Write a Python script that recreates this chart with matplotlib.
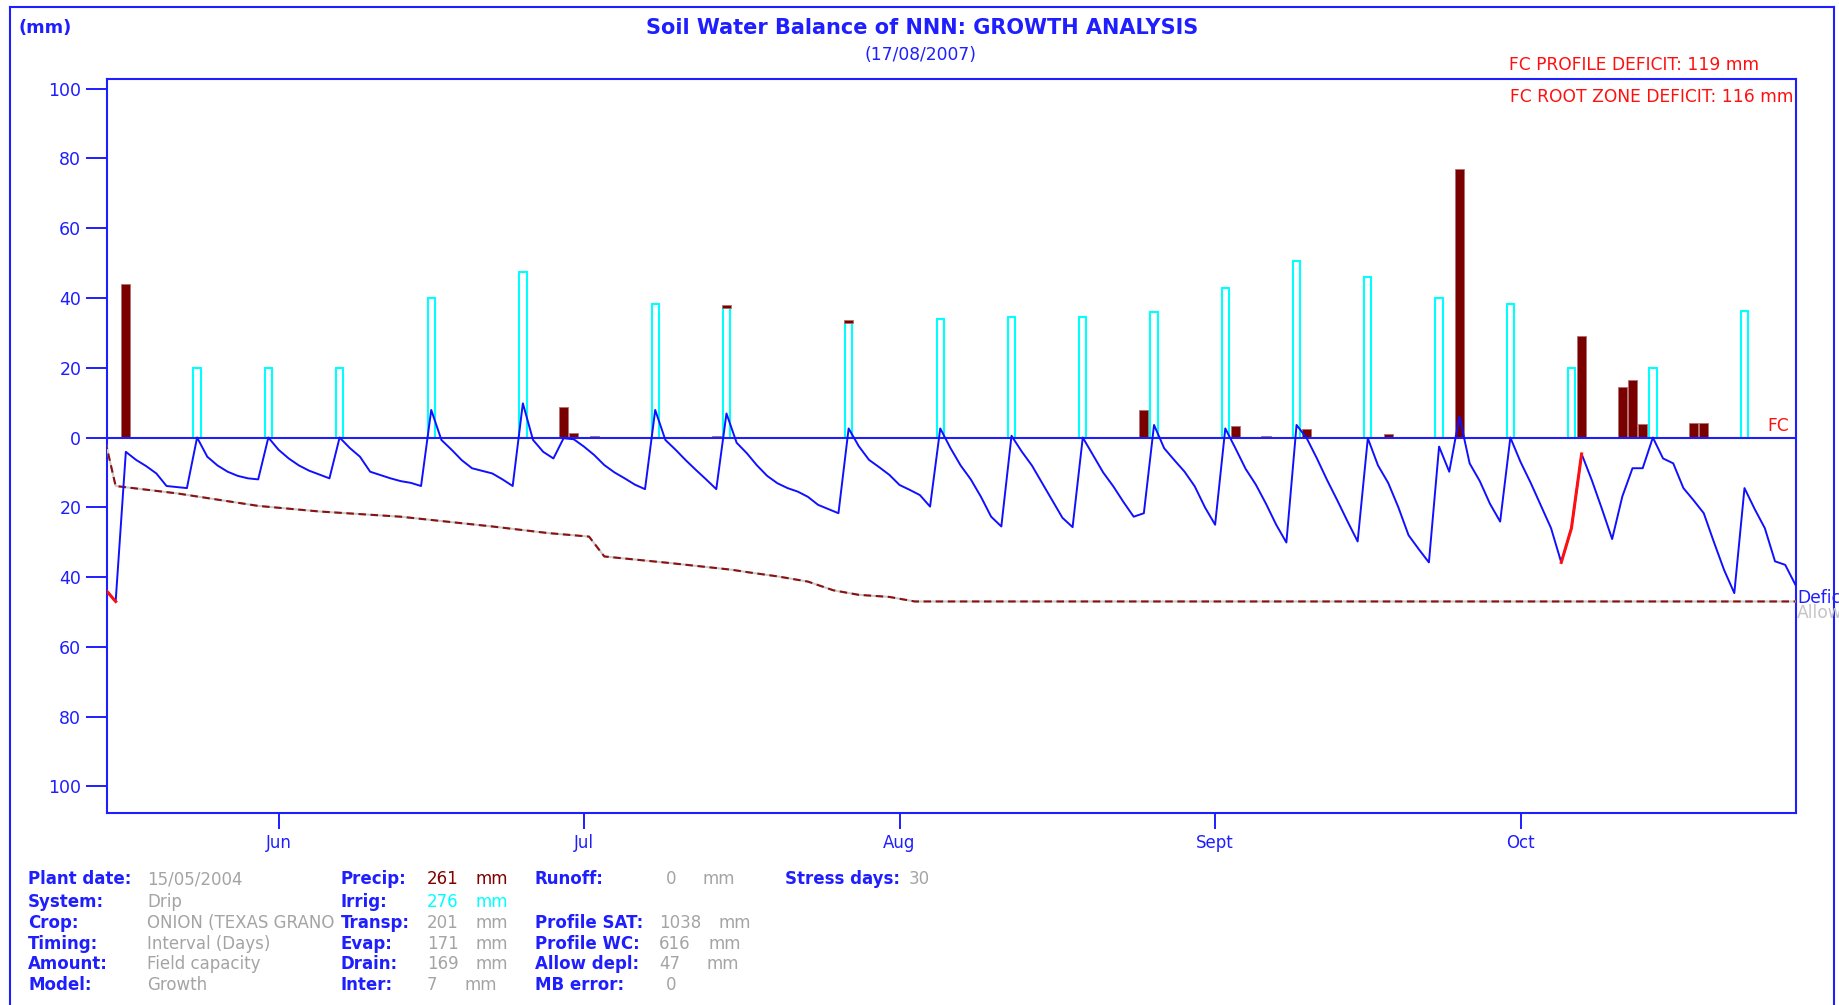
import matplotlib
matplotlib.use('Agg')
import matplotlib.pyplot as plt
from matplotlib.transforms import Bbox, TransformedBbox

# days counted from the plant date (15/05/2004 = day 0)
irrig_days = [9, 16, 23, 32, 41, 54, 61, 73, 82, 89, 96, 103, 110, 117, 124, 131, 138, 144, 152, 161]
irrig_mm = [20, 20, 20, 40, 47.4, 38.2, 37, 32.7, 34.1, 34.6, 34.6, 35.9, 42.9, 50.7, 46.1, 40.1, 38.2, 19.8, 19.8, 36.4]

precip_days = [2, 45, 46, 48, 60, 61, 73, 102, 111, 114, 118, 126, 133, 145, 149, 150, 151, 156, 157]
precip_mm = [44, 8.8, 1.4, 0.5, 0.5, 0.9, 1.1, 8.0, 3.3, 0.5, 2.4, 1.0, 77, 29.1, 14.4, 16.4, 3.8, 4.2, 4.2]

# soil water deficit below field capacity (mm)
deficit_days = [0, 1, 2, 3, 4, 5, 6, 8, 9, 10, 11, 12, 13, 14, 15, 16, 17, 18, 19, 20, 22, 23,
                24, 25, 26, 28, 29, 30, 31, 32, 33, 34, 35, 36, 38, 39, 40, 41, 42, 43, 44, 45,
                46, 47, 48, 49, 50, 51, 52, 53, 54, 55, 56, 57, 58, 59, 60, 61, 62, 63, 64, 65,
                66, 67, 68, 69, 70, 71, 72, 73, 74, 75, 76, 77, 78, 79, 80, 81, 82, 83, 84, 85,
                86, 87, 88, 89, 90, 91, 92, 93, 94, 95, 96, 97, 98, 99, 100, 101, 102, 103, 104,
                105, 106, 107, 108, 109, 110, 111, 112, 113, 114, 115, 116, 117, 118, 119, 120,
                121, 122, 123, 124, 125, 126, 127, 128, 129, 130, 131, 132, 133, 134, 135, 136,
                137, 138, 139, 140, 141, 142, 143, 144, 145, 146, 147, 148, 149, 150, 151, 152,
                153, 154, 155, 156, 157, 158, 159, 160, 161, 162, 163, 164, 165, 166]
deficit_mm = [-43.6, -47.0, -4.1, -6.4, -8.2, -10.3, -13.9, -14.5, 0.0, -5.5, -8.0, -9.8, -11.0, -11.7, -12.0, 0.0, -3.5, -6.0, -8.0, -9.5, -11.7, 0.0,
              -3.0, -5.5, -9.8, -11.7, -12.5, -13.0, -13.9, 7.9, -0.7, -3.5, -6.5, -8.8, -10.3, -12.0, -13.9, 9.8, -0.7, -4.1, -6.0, -0.2,
              -0.5, -2.6, -5.0, -7.9, -10.0, -11.7, -13.5, -14.8, 7.9, -0.7, -3.5, -6.5, -9.3, -12.0, -14.8, 6.9, -1.5, -4.5, -8.0, -11.0,
              -13.1, -14.5, -15.5, -17.0, -19.3, -20.5, -21.7, 2.6, -2.5, -6.4, -8.5, -10.7, -13.6, -15.0, -16.5, -19.8, 2.6, -3.0, -8.0, -12.0,
              -17.0, -22.7, -25.5, 0.5, -4.0, -8.0, -13.0, -18.0, -23.0, -25.7, 0.0, -5.0, -10.0, -14.0, -18.5, -22.7, -21.7, 3.6, -3.1,
              -6.5, -9.8, -14.0, -20.0, -25.0, 2.6, -3.1, -9.0, -13.5, -19.0, -25.0, -30.1, 3.6, -0.2, -6.0, -12.2,
              -18.0, -24.0, -29.8, -0.2, -8.0, -13.0, -20.0, -28.0, -32.0, -35.8, -2.6, -9.8, 6.0, -7.4, -12.5, -19.0,
              -24.1, 0.0, -7.0, -13.0, -19.5, -26.0, -35.8, -26.0, -4.7, -12.2, -20.5, -29.1, -16.9, -8.8, -8.8, 0.0,
              -6.0, -7.4, -14.5, -18.0, -21.7, -30.0, -38.0, -44.6, -14.5, -20.5, -26.0, -35.5, -36.5, -42.2]
stress_periods = [(0, 1), (143, 145)]

# allowable depletion (mm)
allow_days = [0, 1, 7, 15, 21, 29, 38, 43.5, 47.5, 49, 55.5, 61.5, 63.3, 66, 69, 71.5, 74, 77, 79.5, 166]
allow_mm = [-1.2, -13.9, -16.0, -19.6, -21.2, -22.7, -25.5, -27.4, -28.4, -34.1, -36.0, -37.9, -38.7, -39.8,
            -41.3, -43.8, -45.1, -45.7, -47.0, -47.0]

month_days = [17, 47, 78, 109, 139]
month_labels = ['Jun', 'Jul', 'Aug', 'Sept', 'Oct']
y_ticks = [-100, -80, -60, -40, -20, 0, 20, 40, 60, 80, 100]

# summary table
col1_labels = ['Plant date:', 'System:', 'Crop:', 'Timing:', 'Amount:', 'Model:']
col1_values = ['15/05/2004', 'Drip', 'ONION (TEXAS GRANO 502)', 'Interval (Days)', 'Field capacity', 'Growth']
col2_labels = ['Precip:', 'Irrig:', 'Transp:', 'Evap:', 'Drain:', 'Inter:']
col2_values = ['261', '276', '201', '171', '169', '7']
col3_labels = ['Runoff:', '', 'Profile SAT:', 'Profile WC:', 'Allow depl:', 'MB error:']
col3_values = ['0', '', '1038', '616', '47', '0']
col3_units = ['mm', '', 'mm', 'mm', 'mm', '']
stress_days = '30'

BLUE = '#1e1eff'
GREY = '#a4a4a4'
W, H = 1839, 1005


def fx(x):
    return x / W


def fy(y):
    return 1 - y / H


fig = plt.figure(figsize=(W / 100, H / 100), dpi=100)
fig.patch.set_facecolor('white')
ax = fig.add_axes([fx(107), fy(812.5), fx(1796) - fx(107), fy(78.6) - fy(812.5)])

# bars
ax.bar(irrig_days, irrig_mm, width=0.72, facecolor='none', edgecolor='#00ffff', linewidth=1.5, zorder=2)
irrig_lookup = dict(zip(irrig_days, irrig_mm))
bottoms = [irrig_lookup.get(d, 0) for d in precip_days]
ax.bar(precip_days, precip_mm, width=0.9, bottom=bottoms, color='#7a0000', edgecolor='#b07070',
       linewidth=0.6, zorder=2)

ax.axhline(0, color=BLUE, lw=1.5, zorder=3)

# allowable depletion
ax.plot(allow_days, allow_mm, color='#cccccc', lw=1.5, zorder=3)
ax.plot(allow_days, allow_mm, color='#8b1010', lw=1.5, ls=(0, (3.6, 2.2)), zorder=3)

# deficit line and stressed parts
ax.plot(deficit_days, deficit_mm, color='#1010ff', lw=1.4, zorder=4)
for d0, d1 in stress_periods:
    i0, i1 = deficit_days.index(d0), deficit_days.index(d1)
    ax.plot(deficit_days[i0:i1 + 1], deficit_mm[i0:i1 + 1], color='#ff1010', lw=2.2, zorder=5)

ax.set_xlim(0.15, 166.06)
ax.set_ylim(-107.5, 102.9)
for s in ax.spines.values():
    s.set_color(BLUE)
    s.set_linewidth(1.5)
ax.set_yticks(y_ticks)
ax.set_yticklabels([str(abs(v)) for v in y_ticks])
ax.set_xticks(month_days)
ax.set_xticklabels(month_labels)
ax.tick_params(axis='y', length=15, width=1.4, color=BLUE, labelcolor=BLUE, labelsize=12.5, pad=3.5)
ax.tick_params(axis='x', length=11.5, width=1.4, color=BLUE, labelcolor=BLUE, labelsize=12, pad=4)

# titles and notes
fig.text(fx(18), fy(28), '(mm)', color=BLUE, fontsize=12.8, fontweight='bold', va='center')
fig.text(fx(922), fy(28), 'Soil Water Balance of NNN: GROWTH ANALYSIS', color=BLUE, fontsize=15,
         fontweight='bold', ha='center', va='center')
fig.text(fx(921), fy(55), '(17/08/2007)', color=BLUE, fontsize=12.3, ha='center', va='center')
fig.text(fx(1759), fy(65), 'FC PROFILE DEFICIT: 119 mm', color='#ff1010', fontsize=12.3, ha='right', va='center')
fig.text(fx(1794), fy(97), 'FC ROOT ZONE DEFICIT: 116 mm', color='#ff1010', fontsize=12.3, ha='right', va='center')
fig.text(fx(1789), fy(426), 'FC', color='#ff1010', fontsize=12.3, ha='right', va='center')
fig.text(fx(1797), fy(598), 'Deficit', color=BLUE, fontsize=12.3, va='center')
fig.text(fx(1797), fy(613), 'Allowable', color='#c4c4c4', fontsize=12.3, va='center')

# summary table
row_y = [879, 902, 923, 944, 964, 985]
crop_clip = TransformedBbox(Bbox([[fx(140), 0], [fx(339), 1]]), fig.transFigure)
for i, y in enumerate(row_y):
    fig.text(fx(28), fy(y), col1_labels[i], color=BLUE, fontsize=12, fontweight='bold', va='center')
    t = fig.text(fx(147), fy(y), col1_values[i], color=GREY, fontsize=12, va='center')
    t.set_clip_box(crop_clip)
    t.set_clip_on(True)
    fig.text(fx(341), fy(y), col2_labels[i], color=BLUE, fontsize=12, fontweight='bold', va='center')
    vc = '#800000' if i == 0 else ('#00ffff' if i == 1 else GREY)
    fig.text(fx(427), fy(y), col2_values[i], color=vc, fontsize=12, va='center')
    fig.text(fx(465 if col2_values[i] == '7' else 475), fy(y), 'mm', color=vc, fontsize=12, va='center')
    if col3_labels[i]:
        fig.text(fx(535), fy(y), col3_labels[i], color=BLUE, fontsize=12, fontweight='bold', va='center')
        vx = 659 if len(col3_values[i]) > 1 else 666
        fig.text(fx(vx), fy(y), col3_values[i], color=GREY, fontsize=12, va='center')
        if col3_units[i]:
            ux = vx + {1: 36, 2: 47, 3: 50, 4: 59}[len(col3_values[i])]
            fig.text(fx(ux), fy(y), col3_units[i], color=GREY, fontsize=12, va='center')
fig.text(fx(785), fy(row_y[0]), 'Stress days:', color=BLUE, fontsize=12, fontweight='bold', va='center')
fig.text(fx(909), fy(row_y[0]), stress_days, color=GREY, fontsize=12, va='center')

# outer frame of the report
fig.add_artist(plt.Line2D([fx(10), fx(10)], [fy(7), 0], color=BLUE, lw=1.5, transform=fig.transFigure))
fig.add_artist(plt.Line2D([fx(10), fx(1834)], [fy(7), fy(7)], color=BLUE, lw=1.5, transform=fig.transFigure))
fig.add_artist(plt.Line2D([fx(1834), fx(1834)], [fy(7), 0], color=BLUE, lw=1.5, transform=fig.transFigure))

fig.savefig('out.png', dpi=100)
